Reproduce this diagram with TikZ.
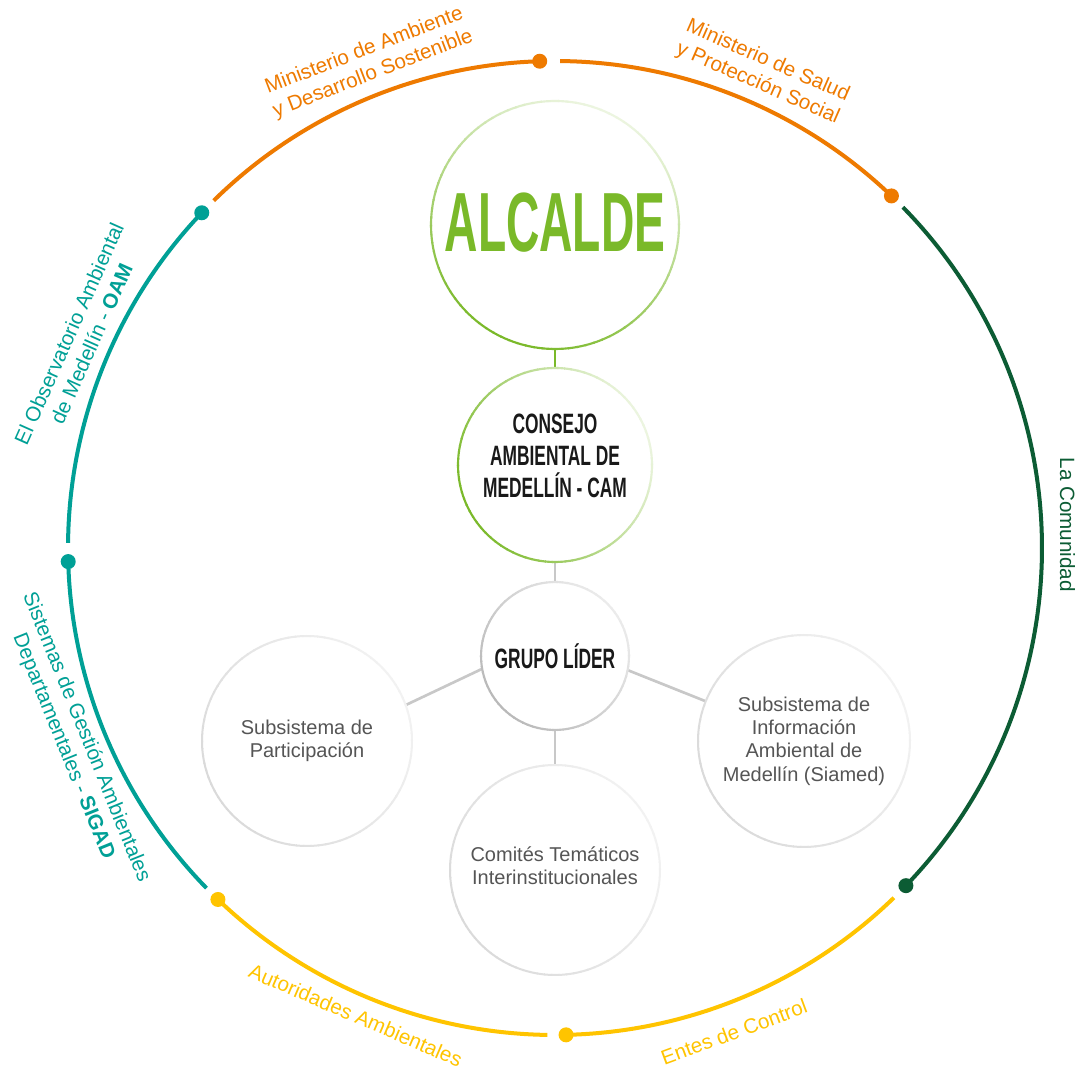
\documentclass[tikz,border=0pt]{standalone}
\usepackage{fontspec}
\setmainfont{Liberation Sans}
\newfontfamily\alcfont[FakeStretch=0.55]{Liberation Sans}
\newfontfamily\dispfont[FakeStretch=0.62]{Liberation Sans}
\usetikzlibrary{calc}
\definecolor{corange}{RGB}{238,122,0}
\definecolor{cteal}{RGB}{0,160,150}
\definecolor{cdkgreen}{RGB}{12,92,52}
\definecolor{cyellow}{RGB}{255,196,0}
\definecolor{cgreen}{RGB}{122,185,41}
\definecolor{cgreenlt}{RGB}{236,245,224}
\definecolor{ctext}{RGB}{85,85,85}
\definecolor{cdark}{RGB}{25,25,25}
\definecolor{cgrayA}{RGB}{185,185,185}
\definecolor{cgrayB}{RGB}{235,235,235}
\definecolor{cgrayC}{RGB}{218,218,218}
\definecolor{cgrayD}{RGB}{242,242,242}
\definecolor{cline}{RGB}{200,200,200}
\newcommand\gradring[6]{%
  \foreach \a in {0,4,...,356}{%
    \pgfmathsetmacro\m{max(0,min(100,50+50*cos(\a+2-#5)))}%
    \draw[line width=#6,draw=#3!\m!#4] ($(#1.center)+(\a:#2)$) arc[start angle=\a,end angle=\a+4.6,radius=#2];
  }}
\begin{document}
\begin{tikzpicture}[x=0.75pt,y=0.75pt,
  bubble/.style={circle,inner sep=0pt,outer sep=0pt,minimum size=#1*1.5pt},
  seg/.style={line width=3pt},
  lab/.style={font=\fontsize{15.5}{18.5}\selectfont,align=center,inner sep=0pt},
  intext/.style={font=\fontsize{15}{17.5}\selectfont,align=center,inner sep=0pt,text=ctext},
  link/.style={draw=cline,line width=2pt},
  glink/.style={draw=cgreen,line width=1.6pt}]
\fill[white] (0,0) rectangle (1080,1070);
\useasboundingbox (0,0) rectangle (1080,1070);
\coordinate (C) at (555,522);
% outer ring
\draw[seg,corange] ($(C)+(134.5:487)$) arc[start angle=134.5,end angle=91.8,radius=487];
\fill[corange] ($(C)+(91.8:487)$) circle[radius=7.5];
\draw[seg,corange] ($(C)+(89.4:487)$) arc[start angle=89.4,end angle=46.3,radius=487];
\fill[corange] ($(C)+(46.3:487)$) circle[radius=7.5];
\draw[seg,cdkgreen] ($(C)+(44.4:487)$) arc[start angle=44.4,end angle=-43.9,radius=487];
\fill[cdkgreen] ($(C)+(-43.9:487)$) circle[radius=7.5];
\draw[seg,cyellow] ($(C)+(-45.9:487)$) arc[start angle=-45.9,end angle=-88.7,radius=487];
\fill[cyellow] ($(C)+(-88.7:487)$) circle[radius=7.5];
\draw[seg,cyellow] ($(C)+(-90.9:487)$) arc[start angle=-90.9,end angle=-133.8,radius=487];
\fill[cyellow] ($(C)+(-133.8:487)$) circle[radius=7.5];
\draw[seg,cteal] ($(C)+(-135.7:487)$) arc[start angle=-135.7,end angle=-178.4,radius=487];
\fill[cteal] ($(C)+(-178.4:487)$) circle[radius=7.5];
\draw[seg,cteal] ($(C)+(179.4:487)$) arc[start angle=179.4,end angle=136.5,radius=487];
\fill[cteal] ($(C)+(136.5:487)$) circle[radius=7.5];
% outer labels
\node[lab,text=corange,rotate=21] (l1) at ($(C)+(111:520)$) {Ministerio de Ambiente\\y Desarrollo Sostenible};
\node[lab,text=corange,rotate=-23.6] (l2) at ($(C)+(66.4:519)$) {Ministerio de Salud\\y Protección Social};
\node[lab,text=cteal,rotate=66] (l3) at ($(C)+(156.2:519)$) {El Observatorio Ambiental\\de Medellín - \textbf{OAM}};
\node[lab,text=cteal,rotate=-68] (l4) at ($(C)+(202:518)$) {Sistemas de Gestión Ambientales\\Departamentales - \textbf{SIGAD}};
\node[lab,text=cdkgreen,rotate=-90] (l5) at ($(C)+(2.6:513)$) {La Comunidad};
\node[lab,text=cyellow,rotate=-23.3] (l6) at ($(C)+(246.9:508)$) {Autoridades Ambientales};
\node[lab,text=cyellow,rotate=20.3] (l7) at ($(C)+(-69.7:516)$) {Entes de Control};
% inner circles
\node[bubble=124] (alc) at (555,845) {};
\node[bubble=97] (cam) at (555,605) {};
\node[bubble=74] (grp) at (555,414) {};
\node[bubble=105] (part) at (307,329) {};
\node[bubble=106] (siam) at (804,329) {};
\node[bubble=105] (com) at (555,200) {};
% connectors
\draw[glink] (alc.south) -- (cam.north);
\draw[link] (cam.south) -- (grp.north);
\draw[link] (grp.190.7) -- (part.20.8);
\draw[link] (grp.-11) -- (siam.158.5);
\draw[link] (grp.south) -- (com.north);
% rings
\gradring{alc}{124}{cgreen}{cgreenlt}{245}{1.6pt}
\gradring{cam}{97}{cgreen}{cgreenlt}{205}{1.6pt}
\gradring{grp}{74}{cgrayA}{cgrayB}{220}{1.6pt}
\gradring{part}{105}{cgrayC}{cgrayD}{210}{1.5pt}
\gradring{siam}{106}{cgrayC}{cgrayD}{210}{1.5pt}
\gradring{com}{105}{cgrayC}{cgrayD}{210}{1.5pt}
% texts
\node[font=\alcfont\bfseries\fontsize{63}{63}\selectfont,text=cgreen,inner sep=0pt] (alct) at ($(alc.center)+(0,2)$) {ALCALDE};
\node[font=\dispfont\bfseries\fontsize{21}{24}\selectfont,text=cdark,align=center,inner sep=0pt] (camt) at ($(cam.center)+(0,9)$) {CONSEJO\\AMBIENTAL DE\\MEDELLÍN - CAM};
\node[font=\dispfont\bfseries\fontsize{21}{24}\selectfont,text=cdark,inner sep=0pt] (grpt) at (grp.center) {GRUPO LÍDER};
\node[intext] (partt) at (part.center) {Subsistema de\\Participación};
\node[intext] (siamt) at (siam.center) {Subsistema de\\Información\\Ambiental de\\Medellín (Siamed)};
\node[intext] (comt) at ($(com.center)+(0,4)$) {Comités Temáticos\\Interinstitucionales};
\end{tikzpicture}
\end{document}
